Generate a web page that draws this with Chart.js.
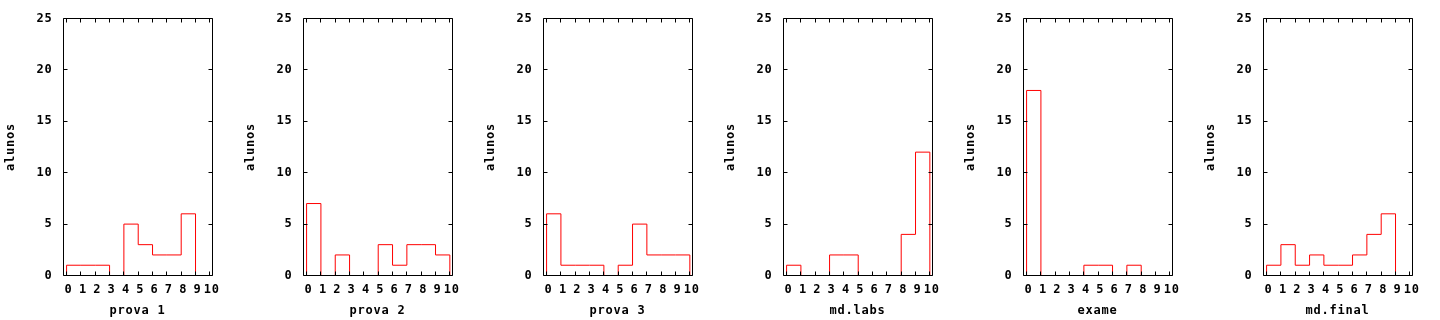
<!DOCTYPE html>
<html>
<head>
<meta charset="utf-8">
<script src="https://cdn.jsdelivr.net/npm/chart.js@4/dist/chart.umd.min.js"></script>
<style>
    body { margin: 0; background: #ffffff; }
    #panels { display: flex; width: 1440px; height: 320px; }
    canvas { display: block; }
</style>
</head>
<body>
<div id="panels"></div>
<script>
// Notenklassen (Ränder der Stufen) und Achsen-Ticks
const xTickValues = [0, 1, 2, 3, 4, 5, 6, 7, 8, 9, 10];
const yTickValues = [0, 5, 10, 15, 20, 25];
const yTitle = 'alunos';
const panelTitles = ['prova 1', 'prova 2', 'prova 3', 'md.labs', 'exame', 'md.final'];

// Anzahl alunos pro Klasse [i, i+1)
const prova1 = [1, 1, 1, 0, 5, 3, 2, 2, 6, 0];
const prova2 = [7, 0, 2, 0, 0, 3, 1, 3, 3, 2];
const prova3 = [6, 1, 1, 1, 0, 1, 5, 2, 2, 2];
const mdLabs = [1, 0, 0, 2, 2, 0, 0, 0, 4, 12];
const exame = [18, 0, 0, 0, 1, 1, 0, 1, 0, 0];
const mdFinal = [1, 3, 1, 2, 1, 1, 2, 4, 6, 0];
const panelCounts = [prova1, prova2, prova3, mdLabs, exame, mdFinal];

const labelFont = { family: '"DejaVu Sans Mono", monospace', size: 12, weight: 'bold', lineHeight: 1.2 };

// Rahmen mit Ticks nach innen (wie gnuplot), ausserdem Buchstabenabstand
const framePlugin = {
    id: 'framePlugin',
    beforeDraw: function(chart) {
        chart.ctx.letterSpacing = '0.8px';
    },
    afterDraw: function(chart) {
        const ctx = chart.ctx;
        const area = chart.chartArea;
        const xScale = chart.scales.x;
        const yScale = chart.scales.y;
        const l = Math.floor(area.left) + 0.5;
        const r = Math.floor(area.right) + 0.5;
        const t = Math.floor(area.top) + 0.5;
        const b = Math.floor(area.bottom) + 0.5;

        ctx.save();
        ctx.strokeStyle = '#000000';
        ctx.lineWidth = 1;
        ctx.beginPath();
        ctx.rect(l, t, r - l, b - t);
        xScale.ticks.forEach(tick => {
            const px = Math.floor(xScale.getPixelForValue(tick.value)) + 0.5;
            ctx.moveTo(px, b); ctx.lineTo(px, b - 4);
            ctx.moveTo(px, t); ctx.lineTo(px, t + 4);
        });
        yScale.ticks.forEach(tick => {
            const py = Math.floor(yScale.getPixelForValue(tick.value)) + 0.5;
            ctx.moveTo(l, py); ctx.lineTo(l + 4, py);
            ctx.moveTo(r, py); ctx.lineTo(r - 4, py);
        });
        ctx.stroke();
        ctx.restore();
    }
};

// Stufenlinie aus den Klassen bauen: Start bei (0,0), Ende bei (10,0)
function stepPoints(counts) {
    const points = [{ x: xTickValues[0], y: 0 }];
    counts.forEach((c, i) => points.push({ x: xTickValues[i], y: c }));
    points.push({ x: xTickValues[xTickValues.length - 1], y: 0 });
    return points;
}

function createPanel(title, counts) {
    const canvas = document.createElement('canvas');
    canvas.width = 240;
    canvas.height = 320;
    canvas.style.width = '240px';
    canvas.style.height = '320px';
    document.getElementById('panels').appendChild(canvas);

    new Chart(canvas.getContext('2d'), {
        type: 'line',
        data: {
            datasets: [{
                data: stepPoints(counts),
                stepped: true,
                fill: false,
                borderColor: '#ff0000',
                borderWidth: 1,
                pointRadius: 0
            }]
        },
        options: {
            responsive: false,
            animation: false,
            events: [],
            layout: { padding: { left: 0, right: 28, top: 18.5, bottom: 0 } },
            plugins: {
                legend: { display: false },
                tooltip: { enabled: false }
            },
            scales: {
                x: {
                    type: 'linear',
                    min: -0.25,
                    max: 10.15,
                    afterBuildTicks: scale => { scale.ticks = xTickValues.map(v => ({ value: v })); },
                    afterFit: scale => { scale.height = 44.5; },
                    grid: { display: false, drawTicks: false },
                    border: { display: false },
                    ticks: { color: '#000000', font: labelFont, padding: 7, labelOffset: 2, maxRotation: 0, autoSkip: false },
                    title: { display: true, text: title, color: '#000000', font: labelFont, padding: { top: 0, bottom: 2.3 } }
                },
                y: {
                    min: 0,
                    max: 25,
                    afterBuildTicks: scale => { scale.ticks = yTickValues.map(v => ({ value: v })); },
                    afterFit: scale => { scale.width = 63; },
                    grid: { display: false, drawTicks: false },
                    border: { display: false },
                    ticks: { color: '#000000', font: labelFont, padding: 10.5 },
                    title: { display: true, text: yTitle, color: '#000000', font: labelFont, padding: { top: 3.8, bottom: 0 } }
                }
            }
        },
        plugins: [framePlugin]
    });
}

panelTitles.forEach((title, i) => createPanel(title, panelCounts[i]));
</script>
</body>
</html>
